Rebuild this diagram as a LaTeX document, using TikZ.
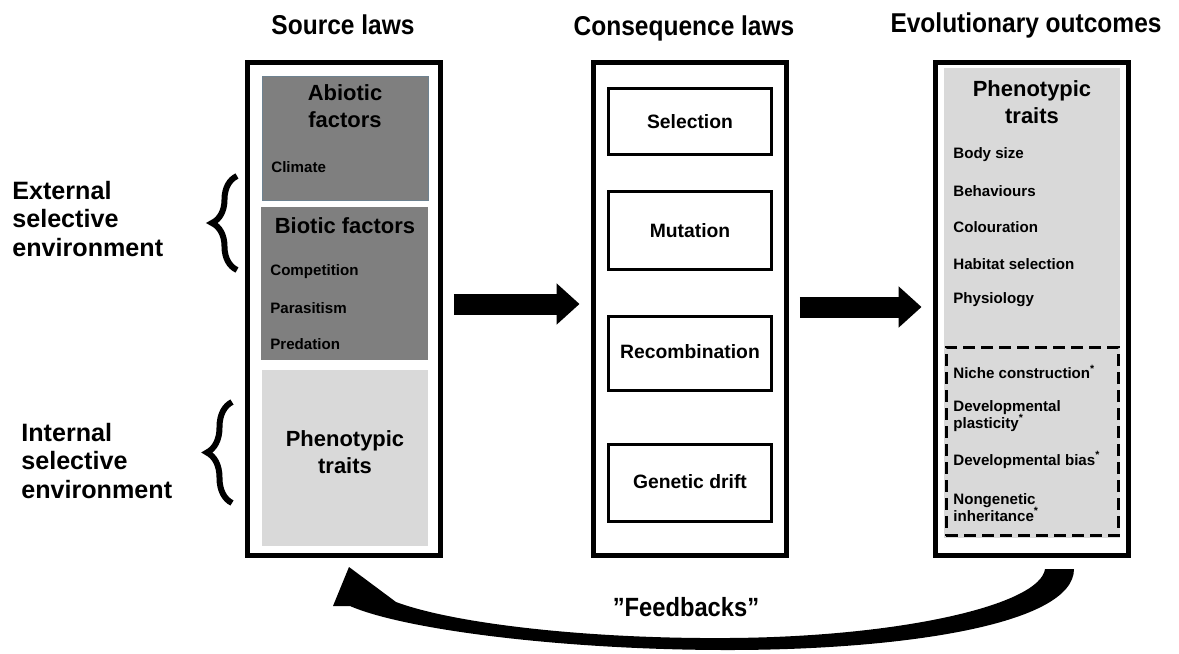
\documentclass[tikz,border=0pt]{standalone}
\usepackage{fontspec}
\setmainfont{Liberation Sans}
\newfontfamily\narrowsf[FakeStretch=0.9]{Liberation Sans}
\usepackage{tikz}
\usetikzlibrary{arrows.meta, positioning, decorations.pathreplacing}
\definecolor{darkGrey}{HTML}{7F7F7F}
\definecolor{paleGrey}{HTML}{D9D9D9}
\definecolor{slateEdge}{HTML}{6E8290}

\begin{document}
\begin{tikzpicture}[
    x=0.02cm, y=-0.02cm,
    column/.style={draw, line width=0.1cm, minimum width=3.88cm, minimum height=9.88cm, inner sep=0pt},
    factor/.style={minimum width=3.32cm, inner sep=0pt},
    lawbox/.style={draw, line width=0.06cm, minimum width=3.26cm, font=\fontsize{11}{13}\selectfont\bfseries},
    heading/.style={font=\fontsize{12.5}{15.5}\selectfont\bfseries, align=center, inner sep=0pt},
    item/.style={anchor=west, inner sep=0pt, align=left, font=\fontsize{8.6}{10}\selectfont\bfseries},
    coltitle/.style={anchor=base, inner sep=0pt, font=\narrowsf\bfseries\fontsize{15.5}{18}\selectfont},
    sidetext/.style={anchor=west, align=left, inner sep=0pt, font=\fontsize{14.3}{16.4}\selectfont\bfseries},
    bigarrow/.style={line width=0.42cm, -{Triangle[length=0.46cm, width=0.8cm]}, shorten <=0.21cm, shorten >=0.22cm},
    curly/.style={decorate, decoration={brace, amplitude=0.5cm}, line width=0.12cm},
]
\useasboundingbox (0,0) rectangle (1179,653);

% Columns
\node[column] (src) at (344,309) {};
\node[column] (cons) at (690,309) {};
\node[column] (evo) at (1032,309) {};

% Titles
\node[coltitle] (srctitle) at (343,34) {Source laws};
\node[coltitle] (constitle) at (684,35) {Consequence laws};
\node[coltitle] (evotitle) at (1026,32) {Evolutionary outcomes};

% Source laws
\node[factor, fill=darkGrey, draw=slateEdge, line width=0.4pt, minimum height=2.48cm] (abio) at (345,138) {};
\node[factor, fill=darkGrey, minimum width=3.34cm, minimum height=3.06cm] (bio) at (344.5,283.5) {};
\node[factor, fill=paleGrey, minimum height=3.52cm] (phen) at (345,458) {};
\node[heading] (abiohead) at (345,106.5) {Abiotic\\factors};
\node[item] (climate) at (271,167) {Climate};
\node[heading] (biohead) at (345,226) {Biotic factors};
\node[item] (compet) at (270,272) {Competition};
\node[item] (parasit) at (270,308) {Parasitism};
\node[item] (predat) at (270,344) {Predation};
\node[heading] (phenhead) at (345,452) {Phenotypic\\traits};

% Consequence laws
\node[lawbox, minimum height=1.32cm] (select) at (690,121.5) {Selection};
\node[lawbox, minimum height=1.56cm] (mutat) at (690,230.5) {Mutation};
\node[lawbox, minimum height=1.48cm] (recomb) at (690,353.5) {\raisebox{0.08cm}{Recombination}};
\node[lawbox, minimum height=1.54cm] (drift) at (690,483) {\raisebox{0.08cm}{Genetic drift}};

% Evolutionary outcomes
\node[fill=paleGrey, minimum width=3.52cm, minimum height=9.4cm, inner sep=0pt] (evofill) at (1032,303) {};
\node[draw, line width=0.06cm, dash pattern=on 0.24cm off 0.12cm, minimum width=3.44cm, minimum height=3.78cm, inner sep=0pt] (extended) at (1032,441.5) {};
\node[heading] (evohead) at (1032,102) {Phenotypic\\traits};
\node[item] (bodysize) at (953,155) {Body size};
\node[item] (behav) at (953,191) {Behaviours};
\node[item] (colour) at (953,227) {Colouration};
\node[item] (habitat) at (953,264) {Habitat selection};
\node[item] (physio) at (953,300) {Physiology};
\node[item] (niche) at (953,372) {Niche construction\textsuperscript{*}};
\node[item] (plastic) at (953,416) {Developmental\\plasticity\textsuperscript{*}};
\node[item] (devbias) at (953,460) {Developmental bias\textsuperscript{*}};
\node[item] (nongen) at (953,507.5) {Nongenetic\\inheritance\textsuperscript{*}};

% Selective environments
\node[sidetext] (external) at (12,219) {External\\selective\\environment};
\node[sidetext] (internal) at (21,461) {Internal\\selective\\environment};
\draw[curly] (237,270) -- (237,176);
\draw[curly] (232,503) -- (232,402);

% Arrows
\draw[bigarrow] ([yshift=0.1cm]src.east) -- ([yshift=0.1cm]cons.west);
\draw[bigarrow] ([yshift=0.04cm]cons.east) -- ([yshift=0.04cm]evo.west);

% Feedback arrow
\fill (1045,569) .. controls (1040,605) and (900,637) .. (728,638)
    .. controls (590,639) and (455,624) .. (396,602)
    -- (349,567) -- (333,606) -- (350,606)
    .. controls (405,630) and (565,650) .. (728,650)
    .. controls (900,650) and (1074,625) .. (1074,569) -- cycle;
\node[font=\narrowsf\bfseries\fontsize{15}{18}\selectfont] (fbtext) at (686,607) {”Feedbacks”};

\end{tikzpicture}
\end{document}
